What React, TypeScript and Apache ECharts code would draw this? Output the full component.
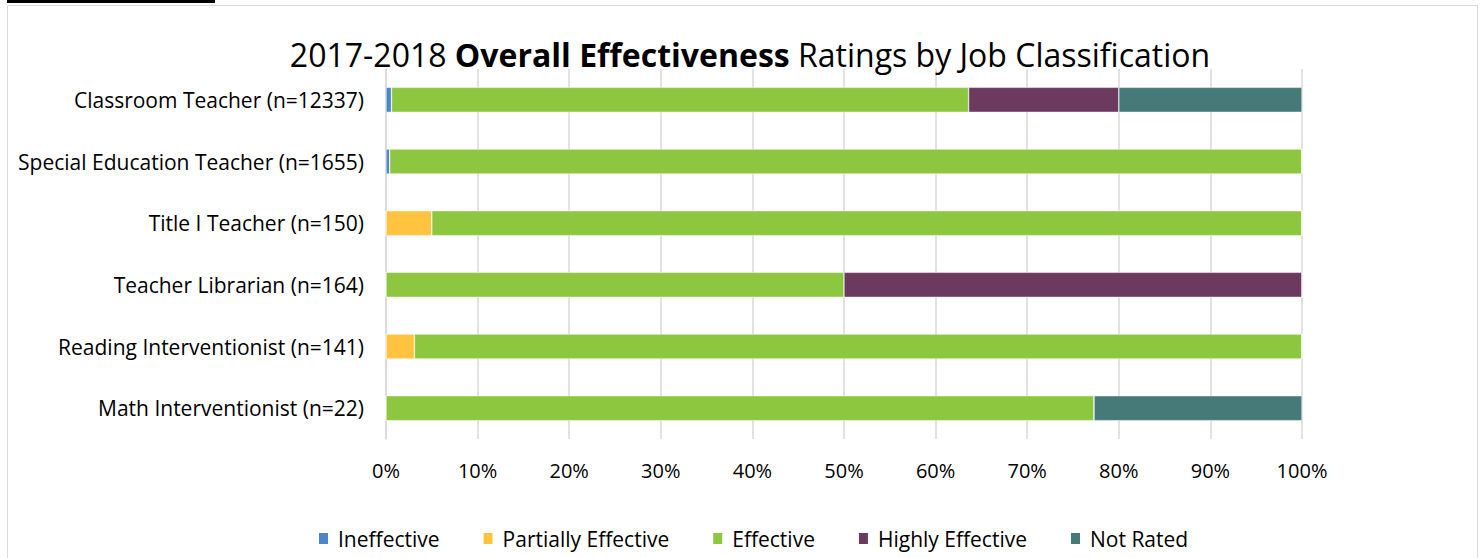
import React, { useEffect, useRef } from "react";
import * as echarts from "echarts";

const categories = [
  "Classroom Teacher (n=12337)",
  "Special Education Teacher (n=1655)",
  "Title I Teacher (n=150)",
  "Teacher Librarian (n=164)",
  "Reading Interventionist (n=141)",
  "Math Interventionist (n=22)",
];
const ineffective = [0.6, 0.4, 0, 0, 0, 0];
const partiallyEffective = [0, 0, 5.0, 0, 3.1, 0];
const effective = [63.0, 99.6, 95.0, 50.0, 96.9, 77.3];
const highlyEffective = [16.4, 0, 0, 50.0, 0, 0];
const notRated = [20.0, 0, 0, 0, 0, 22.7];

const seriesNames = ["Ineffective", "Partially Effective", "Effective", "Highly Effective", "Not Rated"];
const seriesData = [ineffective, partiallyEffective, effective, highlyEffective, notRated];
const colors = ["#4a86c8", "#ffc340", "#8dc63f", "#6b3a5e", "#467a78"];

const FONT = "Open Sans";

export default function App() {
  const ref = useRef<HTMLDivElement>(null);
  useEffect(() => {
    document.body.style.margin = "0";
    const chart = echarts.init(ref.current!, undefined, { renderer: "svg" });
    chart.setOption({
      animation: false,
      backgroundColor: "#ffffff",
      title: {
        text: "2017-2018 {b|Overall Effectiveness} Ratings by Job Classification",
        left: 745,
        textAlign: "center",
        top: 33,
        textStyle: {
          fontFamily: FONT,
          fontSize: 32,
          fontWeight: "normal",
          color: "#000",
          rich: {
            b: { fontFamily: FONT, fontSize: 32, fontWeight: "bold", color: "#000" },
          },
        },
      },
      graphic: [
        { type: "rect", shape: { x: 7.5, y: 5.5, width: 1470, height: 560 }, style: { fill: "none", stroke: "#d9d9d9", lineWidth: 1 }, silent: true },
        { type: "rect", shape: { x: 7, y: 0, width: 208, height: 3 }, style: { fill: "#000" }, silent: true },
      ],
      legend: {
        bottom: 4,
        left: 312,
        itemWidth: 11,
        itemHeight: 13,
        itemGap: 42,
        icon: "rect",
        textStyle: { fontFamily: FONT, fontSize: 21, color: "#000", padding: [0, 0, 0, 4] },
        data: seriesNames,
      },
      grid: { left: 386, right: 180, top: 69, bottom: 119, containLabel: false },
      xAxis: {
        type: "value",
        min: 0,
        max: 100,
        interval: 10,
        axisLabel: { formatter: "{value}%", fontFamily: FONT, fontSize: 20, color: "#000", margin: 21 },
        axisLine: { show: false },
        axisTick: { show: false },
        splitLine: { lineStyle: { color: "#d9d9d9", width: 1.5 } },
      },
      yAxis: {
        type: "category",
        inverse: true,
        data: categories,
        axisLine: { show: true, lineStyle: { color: "#d9d9d9", width: 1.5 } },
        axisTick: { show: false },
        axisLabel: { fontFamily: FONT, fontSize: 21, color: "#000", margin: 22 },
      },
      series: seriesNames.map((name, i) => ({
        name,
        type: "bar",
        stack: "total",
        barWidth: 25,
        data: seriesData[i],
        itemStyle: { color: colors[i], borderColor: "#fff", borderWidth: 0.5 },
      })),
    });
    return () => chart.dispose();
  }, []);
  return <div ref={ref} style={{ width: 1482, height: 558 }} />;
}
